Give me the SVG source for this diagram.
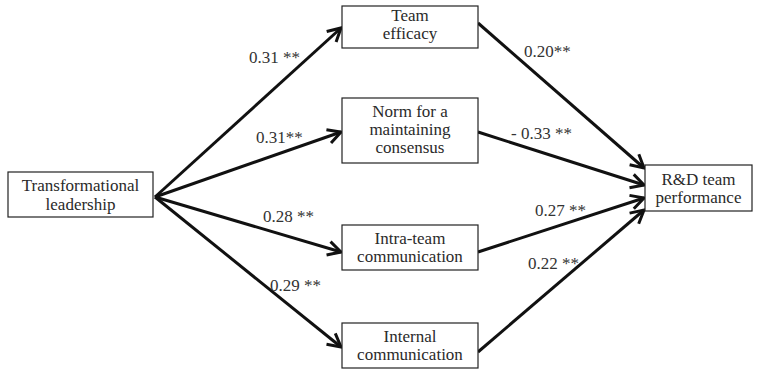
<svg xmlns="http://www.w3.org/2000/svg" width="758" height="371" viewBox="0 0 758 371" font-family="Liberation Serif, Times New Roman, serif">
<style>
.box{fill:#fff;stroke:#222;stroke-width:1.2}
.t{font-size:17px;fill:#2a2a2a;text-anchor:middle}
.l{font-size:17px;fill:#333}
.c{stroke:#111;stroke-width:3;fill:none;marker-end:url(#ah)}
</style>
<defs>
<marker id="ah" viewBox="-16 -10 18 20" refX="0" refY="0" markerWidth="18" markerHeight="20" markerUnits="userSpaceOnUse" orient="auto">
<path d="M-13,-7 L0,0 L-13,7" fill="none" stroke="#111" stroke-width="3" stroke-linejoin="miter"/>
</marker>
</defs>
<rect width="758" height="371" fill="#fff"/>
<g id="connectors">
<line class="c" x1="155" y1="197" x2="341" y2="28"/>
<line class="c" x1="155" y1="197" x2="341" y2="132"/>
<line class="c" x1="155" y1="197" x2="341" y2="252"/>
<line class="c" x1="155" y1="197" x2="341" y2="347"/>
<line class="c" x1="478" y1="23" x2="644" y2="168"/>
<line class="c" x1="478" y1="132" x2="644" y2="185"/>
<line class="c" x1="478" y1="252" x2="644" y2="198"/>
<line class="c" x1="478" y1="352" x2="644" y2="210"/>
</g>
<g id="labels" font-family="Liberation Serif, serif">
<text class="l" x="249" y="63">0.31 **</text>
<text class="l" x="256" y="143">0.31**</text>
<text class="l" x="263" y="222">0.28 **</text>
<text class="l" x="270" y="291">0.29 **</text>
<text class="l" x="524" y="57">0.20**</text>
<text class="l" x="511" y="139">- 0.33 **</text>
<text class="l" x="535" y="216">0.27 **</text>
<text class="l" x="528" y="269">0.22 **</text>
</g>
<g id="transformational" font-family="Liberation Serif, serif">
<rect class="box" x="8" y="172" width="145" height="45"/>
<text class="t" x="80.5" y="191">Transformational</text>
<text class="t" x="80.5" y="210">leadership</text>
</g>
<g id="team-efficacy" font-family="Liberation Serif, serif">
<rect class="box" x="342" y="6" width="136" height="42"/>
<text class="t" x="410" y="21">Team</text>
<text class="t" x="410" y="39">efficacy</text>
</g>
<g id="norm" font-family="Liberation Serif, serif">
<rect class="box" x="342" y="98" width="136" height="65"/>
<text class="t" x="410" y="117">Norm for a</text>
<text class="t" x="410" y="135">maintaining</text>
<text class="t" x="410" y="153">consensus</text>
</g>
<g id="intra-team" font-family="Liberation Serif, serif">
<rect class="box" x="342" y="225" width="136" height="45"/>
<text class="t" x="410" y="244">Intra-team</text>
<text class="t" x="410" y="262">communication</text>
</g>
<g id="internal" font-family="Liberation Serif, serif">
<rect class="box" x="342" y="323" width="136" height="45"/>
<text class="t" x="410" y="342">Internal</text>
<text class="t" x="410" y="360">communication</text>
</g>
<g id="rd-performance" font-family="Liberation Serif, serif">
<rect class="box" x="645" y="165" width="107" height="46"/>
<text class="t" x="698.5" y="185">R&amp;D team</text>
<text class="t" x="698.5" y="203">performance</text>
</g>
</svg>
